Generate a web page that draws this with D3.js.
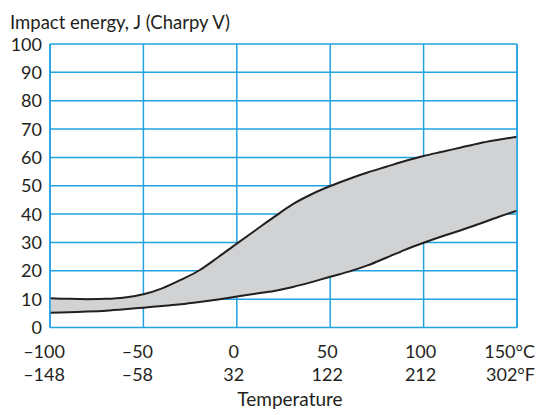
<!DOCTYPE html>
<html>
<head>
<meta charset="utf-8">
<script src="https://cdn.jsdelivr.net/npm/d3@7"></script>
<style>
  body { margin: 0; background: #fff; }
  text { font-family: Lato, "Open Sans", sans-serif; fill: #231f20; }
</style>
</head>
<body>
<svg id="chart" width="538" height="415"></svg>
<script>
const temps = [-100, -90, -80, -70, -60, -50, -40, -30, -20, -10, 0, 10, 20, 30, 40, 50, 60, 70, 80, 90, 100, 110, 120, 130, 140, 150];
const upper = [10.3, 10.1, 10.0, 10.1, 10.6, 11.7, 13.8, 16.8, 20.2, 24.8, 29.6, 34.3, 39, 43.5, 47, 49.9, 52.4, 54.7, 56.7, 58.7, 60.5, 62, 63.5, 65, 66.2, 67.3];
const lower = [5.2, 5.4, 5.6, 5.9, 6.4, 7.0, 7.6, 8.2, 9.0, 9.9, 10.9, 11.9, 12.9, 14.3, 16.0, 17.9, 19.7, 21.9, 24.6, 27.4, 29.9, 32.2, 34.3, 36.6, 39, 41.2];

const yTicks = [0, 10, 20, 30, 40, 50, 60, 70, 80, 90, 100];
const xTicksC = [-100, -50, 0, 50, 100, 150];
const xLabelsC = ['\u2013100', '\u201350', '0', '50', '100', '150\u00b0C'];
const xLabelsF = ['\u2013148', '\u201358', '32', '122', '212', '302\u00b0F'];

const margin = { top: 44, left: 50 };
const innerWidth = 467;
const innerHeight = 283.5;
const gridColor = '#22a2df';
const ink = '#231f20';

const svg = d3.select('#chart');
const g = svg.append('g')
  .attr('transform', `translate(${ margin.left }, ${ margin.top })`);

const x = d3.scaleLinear().domain([-100, 150]).range([0, innerWidth]);
const y = d3.scaleLinear().domain([0, 100]).range([innerHeight, 0]);

// grid
g.selectAll('line.h')
  .data(yTicks)
  .enter().append('line')
  .attr('class', 'h')
  .attr('x1', 0).attr('x2', innerWidth)
  .attr('y1', (d) => y(d)).attr('y2', (d) => y(d))
  .attr('stroke', gridColor).attr('stroke-width', 1.5);

g.selectAll('line.v')
  .data(xTicksC)
  .enter().append('line')
  .attr('class', 'v')
  .attr('x1', (d) => x(d)).attr('x2', (d) => x(d))
  .attr('y1', 0).attr('y2', innerHeight)
  .attr('stroke', gridColor).attr('stroke-width', 1.5);

// band
const rows = temps.map((t, i) => ({ t, lo: lower[i], hi: upper[i] }));

g.append('path')
  .datum(rows)
  .attr('fill', '#d1d2d4')
  .attr('d', d3.area()
    .x((d) => x(d.t))
    .y0((d) => y(d.lo))
    .y1((d) => y(d.hi))
    .curve(d3.curveCatmullRom));

[upper, lower].forEach((series) => {
  g.append('path')
    .datum(temps.map((t, i) => [t, series[i]]))
    .attr('fill', 'none')
    .attr('stroke', ink)
    .attr('stroke-width', 2)
    .attr('d', d3.line()
      .x((d) => x(d[0]))
      .y((d) => y(d[1]))
      .curve(d3.curveCatmullRom));
});

// redraw the left/right edges over the fill
[-100, 150].forEach((t) => {
  g.append('line')
    .attr('x1', x(t)).attr('x2', x(t))
    .attr('y1', 0).attr('y2', innerHeight)
    .attr('stroke', gridColor).attr('stroke-width', 1.5);
});

// y labels
g.selectAll('text.yl')
  .data(yTicks)
  .enter().append('text')
  .attr('class', 'yl')
  .attr('x', -8)
  .attr('y', (d) => y(d) + 6.5)
  .attr('text-anchor', 'end')
  .attr('font-size', 18)
  .text((d) => d);

// x labels, two rows
const lastIdx = xTicksC.length - 1;
[xLabelsC, xLabelsF].forEach((labels, row) => {
  g.selectAll(`text.xl${ row }`)
    .data(xTicksC)
    .enter().append('text')
    .attr('class', `xl${ row }`)
    .attr('x', (d, i) => i === lastIdx ? x(d) + 18 : x(d) + (d < 0 ? -6 : -3))
    .attr('y', innerHeight + 30 + row * 23.5)
    .attr('text-anchor', (d, i) => i === lastIdx ? 'end' : 'middle')
    .attr('font-size', 18)
    .text((d, i) => labels[i]);
});

svg.append('text')
  .attr('x', 10)
  .attr('y', 29)
  .attr('font-size', 18.5)
  .text('Impact energy, J (Charpy V)');

svg.append('text')
  .attr('x', 290)
  .attr('y', 406)
  .attr('text-anchor', 'middle')
  .attr('font-size', 19)
  .text('Temperature');
</script>
</body>
</html>
